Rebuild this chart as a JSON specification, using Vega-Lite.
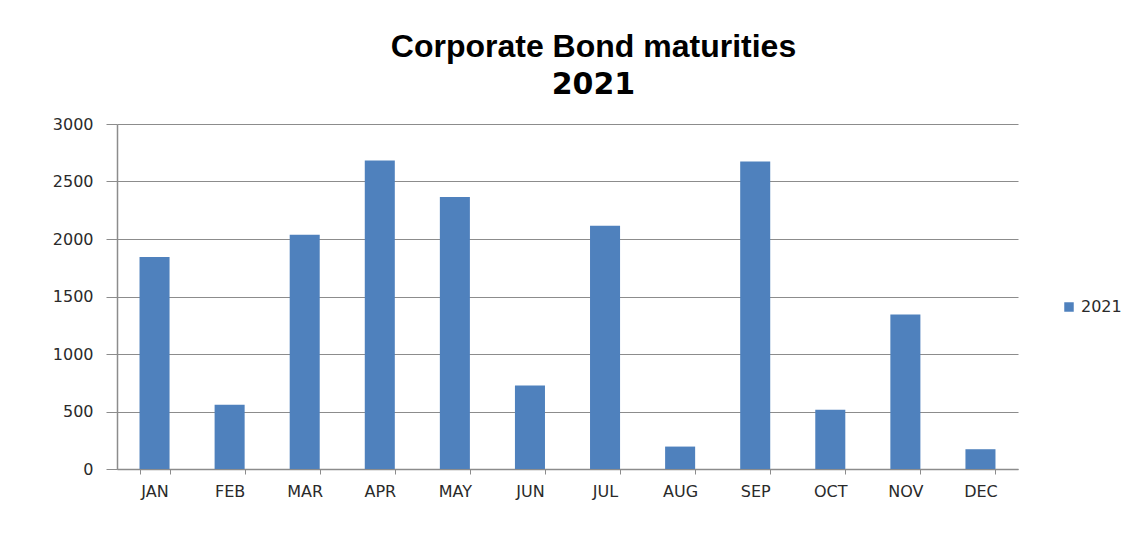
{
  "$schema": "https://vega.github.io/schema/vega-lite/v6.json",
  "autosize": "none",
  "width": 901,
  "height": 345,
  "padding": {"left": 117, "top": 124, "right": 117, "bottom": 64},
  "background": "white",
  "title": {
    "text": "Corporate Bond maturities",
    "subtitle": "2021",
    "anchor": "middle",
    "dx": 26,
    "offset": 15,
    "font": "Liberation Sans Narrow, Liberation Sans",
    "fontSize": 32,
    "fontWeight": "bold",
    "color": "black",
    "subtitleFont": "DejaVu Sans",
    "subtitleFontSize": 30,
    "subtitleFontWeight": "bold",
    "subtitleColor": "black",
    "subtitlePadding": 6
  },
  "data": {
    "values": [
      {"month": "JAN", "series": "2021", "value": 1844},
      {"month": "FEB", "series": "2021", "value": 558},
      {"month": "MAR", "series": "2021", "value": 2037},
      {"month": "APR", "series": "2021", "value": 2682},
      {"month": "MAY", "series": "2021", "value": 2365},
      {"month": "JUN", "series": "2021", "value": 727},
      {"month": "JUL", "series": "2021", "value": 2115},
      {"month": "AUG", "series": "2021", "value": 195},
      {"month": "SEP", "series": "2021", "value": 2674},
      {"month": "OCT", "series": "2021", "value": 515},
      {"month": "NOV", "series": "2021", "value": 1343},
      {"month": "DEC", "series": "2021", "value": 172}
    ]
  },
  "mark": {"type": "bar"},
  "encoding": {
    "x": {
      "field": "month",
      "type": "nominal",
      "sort": null,
      "title": null,
      "scale": {"paddingInner": 0.6, "paddingOuter": 0.3},
      "axis": {
        "labelAngle": 0,
        "tickBand": "extent",
        "tickSize": 5,
        "tickColor": "#8c8c8c",
        "domainColor": "#8c8c8c",
        "labelFont": "DejaVu Sans",
        "labelFontSize": 16,
        "labelColor": "#2a2a2a",
        "labelPadding": 9,
        "grid": false
      }
    },
    "y": {
      "field": "value",
      "type": "quantitative",
      "title": null,
      "scale": {"domain": [0, 3000]},
      "axis": {
        "values": [0, 500, 1000, 1500, 2000, 2500, 3000],
        "format": "d",
        "tickSize": 11,
        "tickColor": "#8c8c8c",
        "domainColor": "#8c8c8c",
        "gridColor": "#8c8c8c",
        "labelFont": "DejaVu Sans",
        "labelFontSize": 16,
        "labelColor": "#2a2a2a",
        "labelPadding": 13
      }
    },
    "color": {
      "field": "series",
      "type": "nominal",
      "scale": {"range": ["#4f81bd"]},
      "legend": {
        "title": null,
        "orient": "none",
        "legendX": 944,
        "legendY": 175,
        "symbolType": "square",
        "symbolSize": 90,
        "labelFont": "DejaVu Sans",
        "labelFontSize": 16,
        "labelColor": "#2a2a2a",
        "padding": 0
      }
    }
  },
  "config": {
    "view": {"stroke": null},
    "axis": {"domainWidth": 1.5, "gridWidth": 1.2}
  }
}
